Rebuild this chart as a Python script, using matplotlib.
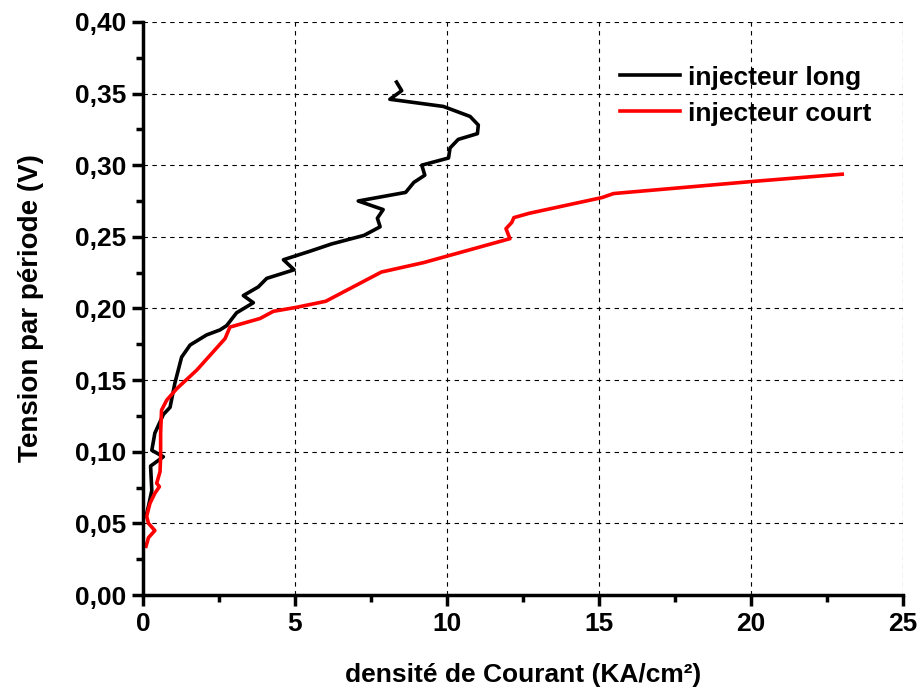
import matplotlib
matplotlib.use('Agg')
import matplotlib.pyplot as plt
from matplotlib.ticker import MultipleLocator, FuncFormatter

# injecteur long (black)
long_x = [8.34, 8.51, 8.12, 9.88, 10.76, 11.03, 11.0, 10.37, 10.1, 10.05, 9.17, 9.27, 8.91, 8.64,
          7.08, 7.90, 7.71, 7.80, 7.27, 6.20, 5.50, 4.62, 4.97, 4.07, 3.79, 3.30, 3.63, 3.08, 2.75,
          2.53, 2.09, 1.55, 1.27, 1.16, 1.05, 0.89, 0.67, 0.39, 0.29, 0.67, 0.25, 0.29, 0.18, 0.10]
long_y = [0.358, 0.352, 0.346, 0.341, 0.334, 0.328, 0.322, 0.318, 0.312, 0.305, 0.300, 0.293,
          0.288, 0.281, 0.275, 0.269, 0.263, 0.257, 0.251, 0.245, 0.240, 0.234, 0.227, 0.221,
          0.215, 0.209, 0.204, 0.197, 0.188, 0.185, 0.1815, 0.1745, 0.166, 0.157, 0.148, 0.131,
          0.126, 0.113, 0.101, 0.0965, 0.090, 0.073, 0.062, 0.055]

# injecteur court (red)
court_x = [0.10, 0.18, 0.39, 0.18, 0.12, 0.23, 0.39, 0.54, 0.45, 0.56, 0.58, 0.58, 0.61, 0.78,
           1.11, 1.77, 2.70, 2.86, 3.85, 4.29, 5.05, 6.01, 7.84, 9.23, 12.07, 11.94, 12.13, 12.2,
           12.70, 15.10, 15.48, 20.03, 23.0]
court_y = [0.034, 0.040, 0.045, 0.050, 0.055, 0.064, 0.071, 0.0756, 0.078, 0.086, 0.0965, 0.113,
           0.129, 0.136, 0.144, 0.157, 0.179, 0.187, 0.193, 0.198, 0.2008, 0.205, 0.2254, 0.232,
           0.2487, 0.2557, 0.260, 0.2634, 0.2664, 0.2774, 0.2802, 0.2886, 0.2937]

plt.rcParams['font.family'] = ['Liberation Sans', 'DejaVu Sans']
plt.rcParams['font.weight'] = 'bold'

fig = plt.figure(figsize=(9.19, 6.93), dpi=100)
ax = fig.add_axes([0.1556, 0.1414, 0.827, 0.827])

ax.plot(long_x, long_y, color='black', lw=2.6, label='injecteur long')
ax.plot(court_x, court_y, color='red', lw=2.6, label='injecteur court')

ax.set_xlim(0, 25)
ax.set_ylim(0, 0.40)
ax.xaxis.set_major_locator(MultipleLocator(5))
ax.xaxis.set_minor_locator(MultipleLocator(2.5))
ax.yaxis.set_major_locator(MultipleLocator(0.05))
ax.yaxis.set_minor_locator(MultipleLocator(0.025))
ax.yaxis.set_major_formatter(FuncFormatter(lambda v, p: f'{v:.2f}'.replace('.', ',')))
ax.xaxis.set_major_formatter(FuncFormatter(lambda v, p: f'{v:g}'))

ax.grid(True, which='major', color='black', ls=(0, (4, 4)), lw=0.8)
for s in ['top', 'right']:
    ax.spines[s].set_visible(False)
for s in ['left', 'bottom']:
    ax.spines[s].set_linewidth(2.5)

ax.tick_params(which='major', direction='out', length=8, width=2.5, labelsize=19, pad=4)
ax.tick_params(which='minor', direction='out', length=5, width=2.5)
for lab in ax.get_xticklabels() + ax.get_yticklabels():
    lab.set_fontweight('bold')

ax.set_xlabel('densité de Courant (KA/cm²)', fontsize=19, fontweight='bold', labelpad=20)
ax.set_ylabel('Tension par période (V)', fontsize=20, fontweight='bold', labelpad=22)

ax.legend(loc='upper right', bbox_to_anchor=(0.99, 0.965), frameon=False, fontsize=19,
          handlelength=2.3, handletextpad=0.3, labelspacing=0.45)

fig.savefig('out.png', dpi=100)
